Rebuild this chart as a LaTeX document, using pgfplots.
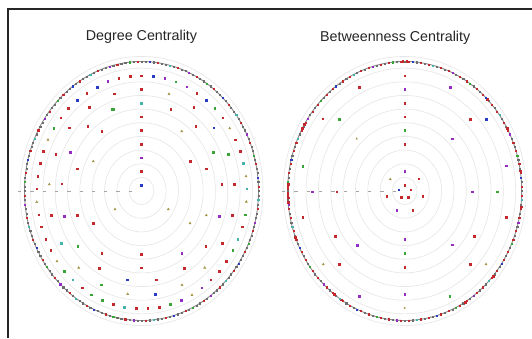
\documentclass[border=0pt]{standalone}
\usepackage{pgfplots}
\pgfplotsset{compat=1.18}
\usepgfplotslibrary{polar}
\usepackage{fontspec}
\setmainfont{Liberation Sans}
\definecolor{cr}{RGB}{195,40,45}
\definecolor{cb}{RGB}{40,60,195}
\definecolor{cp}{RGB}{150,45,195}
\definecolor{cg}{RGB}{55,165,55}
\definecolor{ct}{RGB}{70,180,170}
\definecolor{co}{RGB}{165,150,70}
\definecolor{cgr}{RGB}{110,110,110}
\definecolor{circ}{RGB}{230,230,230}
\definecolor{dashc}{RGB}{165,165,165}
\pgfplotsset{
  pix/.style={hide axis, scale only axis, width=260pt, height=286pt,
    xmin=-130, xmax=130, ymin=-143, ymax=143, anchor=center, clip=false},
  pol/.style={hide axis, scale only axis, width=260pt, height=286pt,
    xmin=-11.111, xmax=11.111, ymin=-11.0425, ymax=11.0425, anchor=center, clip=false},
  dots/.style={only marks, mark=square*, mark size=0.95pt, color=#1, mark options={draw=#1, fill=#1, solid}},
  tris/.style={only marks, mark=triangle*, mark size=1.2pt, color=#1, mark options={draw=#1, fill=#1, solid}},
  ring/.style={only marks, data cs=polar, mark=square*, mark size=0.55pt, color=#1, mark options={draw=#1, fill=#1, solid}},
}
\newcommand{\circles}{%
  \pgfplotsinvokeforeach{13.65,27.3,40.95,54.6,68.25,81.9,95.55,109.2,122.85,134.55}{%
    \draw[circ, line width=0.6pt] (axis cs:0,0) ellipse [x radius={0.903*##1pt}, y radius={##1pt}];}%
  \draw[cgr!80, line width=0.9pt] (axis cs:0,0) ellipse [x radius=117pt, y radius=129.5pt];
}
\begin{document}
\begin{tikzpicture}
\useasboundingbox (0,0) rectangle (532pt,338pt);
\fill[white] (0,0) rectangle (532pt,338pt);
\draw[black!85, line width=2.2pt] (8pt,0pt) -- (8pt,329.3pt) -- (532pt,329.3pt);
\node[anchor=base, font=\fontsize{14.3}{16}\selectfont, text=black!85] at (141.5pt,297.8pt) {Degree Centrality};
\node[anchor=base, font=\fontsize{14.3}{16}\selectfont, text=black!85] at (395.2pt,296pt) {Betweenness Centrality};

% ---------------- Degree Centrality ----------------
\begin{axis}[pix, at={(141.5pt,147pt)}]
\circles
\addplot[dashc, line width=0.9pt, dash pattern=on 3.3pt off 9pt] coordinates {(-123.5,0) (-8.5,0)};
\addplot[dots=cr] coordinates {(0,115.3)(-11.5,114.7)(-22.8,112.7)(-54.8,98)(-73.2,82.7)(-80.8,73.3)(55.2,98)(81.2,73.3)(93.8,51.3)(0,101.7)(-27.2,97.3)(-52.2,83.7)(-72.5,63.3)(52.2,83.7)(-53.8,65)(29.2,82)(54.2,65)(0,74.3)(-39.8,59.7)(0,60.7)(0,46.7)(0,19.7)(-98.2,40)(-85.8,36.7)(-64.2,22.3)(-101.5,27.7)(-103.8,14.7)(-79.8,7.3)(-104.8,2.3)(-102.8,-23.7)(-90.2,-24)(-64.2,-24.3)(-48.2,-32)(-100.2,-35.7)(-95.8,-48)(48.5,29.7)(64.8,22.3)(98.5,40)(80.2,7)(92.5,6.7)(90.5,-24)(100.5,-35.7)(-90.8,-59.3)(-39.8,-62)(0,-63)(64.2,-55)(80.5,-52.3)(-42.2,-77)(0,-76.7)(42.5,-77)(84.8,-70.3)(77.5,-80)(14.8,-88.7)(69.2,-88.7)(-59.5,-96.7)(-28.5,-113.3)(-5.5,-117.3)(6.2,-117.3)(17.5,-116)};
\addplot[dots=cb] coordinates {(-44.5,104)(-64.2,91)(11.8,114.7)(64.5,91)(72.2,63.3)(0,5.7)(-14.5,-88.7)(13.8,-103)};
\addplot[dots=cp] coordinates {(-33.8,109.7)(23.2,112.7)(45.2,104.3)(0,33.3)(-71.5,39)(-77.2,-25.3)(77.5,-25.3)(40.2,-62)(60.2,-96.7)(39.8,-109)};
\addplot[dots=cg] coordinates {(-87.8,63)(34.2,109.3)(73.2,82.7)(86.5,36.7)(103.5,-23.7)(-63.8,-55)(91.2,-59.3)(-77.2,-80)(-40.2,-93.7)(-50.2,-103.7)(-39.2,-109)(28.8,-113.3)};
\addplot[dots=cg, mark size=1.3pt] coordinates {(-28.8,82)(71.8,39)};
\addplot[dots=ct] coordinates {(0,88)(101.8,27.7)(105.2,2.3)(96.2,-48)(-80.2,-52.3)(-68.8,-88.7)(-17.2,-116)};
\addplot[tris=co] coordinates {(-93.5,51.3)(88.2,62.7)(27.5,97)(40.2,59.7)(-48.2,29.7)(-92.2,6.7)(-104.8,-11)(-26.5,-18.3)(26.8,-18.3)(104.5,14.7)(104.8,-10.7)(64.8,-24.3)(48.5,-32.3)(-84.5,-70.3)(-62.8,-76.7)(63.2,-76.7)(40.5,-94)(-13.8,-103)(50.5,-104)};
\end{axis}
\begin{axis}[pol, at={(141.5pt,147pt)}]
\addplot[ring=cgr] coordinates {(0,10)(4,10)(8,10)(10,10)(14,10)(18,10)(20,10)(24,10)(28,10)(30,10)(34,10)(38,10)(40,10)(44,10)(48,10)(50,10)(54,10)(58,10)(60,10)(64,10)(68,10)(70,10)(74,10)(78,10)(80,10)(84,10)(88,10)(90,10)(94,10)(98,10)(100,10)(104,10)(108,10)(110,10)(114,10)(118,10)(120,10)(124,10)(128,10)(130,10)(134,10)(138,10)(140,10)(144,10)(148,10)(150,10)(154,10)(158,10)(160,10)(164,10)(168,10)(170,10)(174,10)(178,10)(180,10)(184,10)(188,10)(190,10)(194,10)(198,10)(200,10)(204,10)(208,10)(210,10)(214,10)(218,10)(220,10)(224,10)(228,10)(230,10)(234,10)(238,10)(240,10)(244,10)(248,10)(250,10)(254,10)(258,10)(260,10)(264,10)(268,10)(270,10)(274,10)(278,10)(280,10)(284,10)(288,10)(290,10)(294,10)(298,10)(300,10)(304,10)(308,10)(310,10)(314,10)(318,10)(320,10)(324,10)(328,10)(330,10)(334,10)(338,10)(340,10)(344,10)(348,10)(350,10)(354,10)(358,10)};
\addplot[ring=cr] coordinates {(2,10)(12,10)(22,10)(32,10)(42,10)(52,10)(62,10)(72,10)(82,10)(92,10)(102,10)(112,10)(122,10)(132,10)(142,10)(152,10)(162,10)(172,10)(182,10)(192,10)(202,10)(212,10)(222,10)(232,10)(242,10)(252,10)(262,10)(272,10)(282,10)(292,10)(302,10)(312,10)(322,10)(332,10)(342,10)(352,10)};
\addplot[ring=cb] coordinates {(6,10)(46,10)(86,10)(126,10)(166,10)(206,10)(246,10)(286,10)(326,10)};
\addplot[ring=cg] coordinates {(16,10)(56,10)(96,10)(136,10)(176,10)(216,10)(256,10)(296,10)(336,10)};
\addplot[ring=cp] coordinates {(26,10)(66,10)(106,10)(146,10)(186,10)(226,10)(266,10)(306,10)(346,10)};
\addplot[ring=ct] coordinates {(36,10)(76,10)(116,10)(156,10)(196,10)(236,10)(276,10)(316,10)(356,10)};
\end{axis}

% ---------------- Betweenness Centrality ----------------
\begin{axis}[pix, at={(404.7pt,147pt)}]
\circles
\addplot[dashc, line width=0.9pt, dash pattern=on 3.3pt off 9pt] coordinates {(-122.7,0) (-7.7,0)};
\addplot[dots=cr] coordinates {(0,115.3)(0,88)(0,47)(-45.7,104)(65.3,72)(-102,-26.3)(101.6,-26.3)(0,6)(6,1.3)(-18,-5.3)(-3.7,-6.3)(3.6,-6.3)(18,-5.3)(8,-19)(-69.4,-45)(69.3,-45)(-65.4,-73.3)(0,-76)(65.3,-73.3)};
\addplot[dots=cr, mark size=0.65pt] coordinates {(-81.7,72)(-67.7,-0.7)(14.3,12)(0,74.3)};
\addplot[dots=cb] coordinates {(81.3,72)(-6,1.3)};
\addplot[dots=cp] coordinates {(0,101.7)(45.6,104)(0,19.7)(-8,-19)(-47.7,-54)(-45.4,-105.3)(0,-103.3)};
\addplot[dots=cp, mark size=0.65pt] coordinates {(101.6,25)(-92.4,-0.7)(67.6,-0.7)(0,-48.3)(47.6,-54)(47.6,52.3)};
\addplot[dots=cg] coordinates {(0,60.7)(-65.4,72)(-102,25)(92.3,-0.7)(0,-62.3)};
\addplot[dots=cg, mark size=0.65pt] coordinates {(45.3,-105.3)};
\addplot[tris=co] coordinates {(-14.4,11.7)(-81.4,-73.3)(81.3,-73.3)};
\addplot[tris=co, mark size=0.9pt] coordinates {(-48,52.3)(0,-117)};
\end{axis}
\begin{axis}[pol, at={(404.7pt,147pt)}]
\addplot[ring=cgr] coordinates {(0,10)(4,10)(10,10)(14,10)(20,10)(24,10)(30,10)(34,10)(40,10)(44,10)(50,10)(54,10)(60,10)(64,10)(70,10)(74,10)(80,10)(84,10)(90,10)(94,10)(100,10)(104,10)(110,10)(114,10)(120,10)(124,10)(130,10)(134,10)(140,10)(144,10)(150,10)(154,10)(160,10)(164,10)(170,10)(174,10)(180,10)(184,10)(190,10)(194,10)(200,10)(204,10)(210,10)(214,10)(220,10)(224,10)(230,10)(234,10)(240,10)(244,10)(250,10)(254,10)(260,10)(264,10)(270,10)(274,10)(280,10)(284,10)(290,10)(294,10)(300,10)(304,10)(310,10)(314,10)(320,10)(324,10)(330,10)(334,10)(340,10)(344,10)(350,10)(354,10)};
\addplot[ring=cr] coordinates {(2,10)(8,10)(12,10)(18,10)(22,10)(28,10)(32,10)(38,10)(42,10)(48,10)(52,10)(58,10)(62,10)(68,10)(72,10)(78,10)(82,10)(88,10)(92,10)(98,10)(102,10)(108,10)(112,10)(118,10)(122,10)(128,10)(132,10)(138,10)(142,10)(148,10)(152,10)(158,10)(162,10)(168,10)(172,10)(178,10)(182,10)(188,10)(192,10)(198,10)(202,10)(208,10)(212,10)(218,10)(222,10)(228,10)(232,10)(238,10)(242,10)(248,10)(252,10)(258,10)(262,10)(268,10)(272,10)(278,10)(282,10)(288,10)(292,10)(298,10)(302,10)(308,10)(312,10)(318,10)(322,10)(328,10)(332,10)(338,10)(342,10)(348,10)(352,10)(358,10)};
\addplot[ring=cr, mark size=0.9pt] coordinates {(89,10)(91,10)(149,10)(151,10)(177,10)(179,10)(181,10)(183,10)(185,10)(201,10)(233,10)(237,10)(301,10)(319,10)(353,10)(9,10)(29,10)(45,10)};
\addplot[ring=cb] coordinates {(6,10)(46,10)(86,10)(126,10)(166,10)(206,10)(246,10)(286,10)(326,10)};
\addplot[ring=cg] coordinates {(16,10)(56,10)(96,10)(136,10)(176,10)(216,10)(256,10)(296,10)(336,10)};
\addplot[ring=cp] coordinates {(26,10)(66,10)(106,10)(146,10)(186,10)(226,10)(266,10)(306,10)(346,10)};
\addplot[ring=ct] coordinates {(36,10)(76,10)(116,10)(156,10)(196,10)(236,10)(276,10)(316,10)(356,10)};
\end{axis}
\end{tikzpicture}
\end{document}
